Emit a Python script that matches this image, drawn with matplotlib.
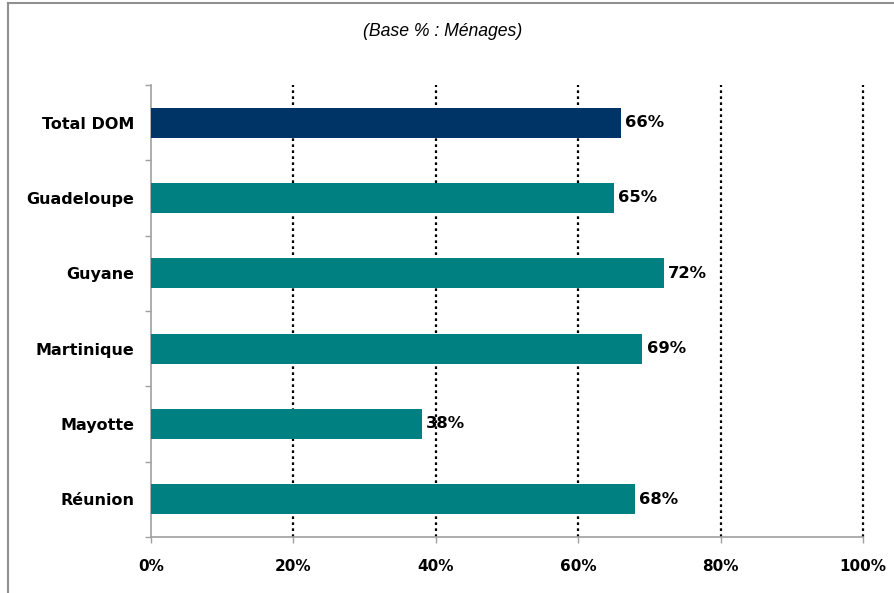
import matplotlib.pyplot as plt
from matplotlib.lines import Line2D

categories = ["Total DOM", "Guadeloupe", "Guyane", "Martinique", "Mayotte", "Réunion"]
values = [66, 65, 72, 69, 38, 68]
colors = ["#003366", "#008080", "#008080", "#008080", "#008080", "#008080"]
xticks = [0, 20, 40, 60, 80, 100]

fig = plt.figure(figsize=(8.94, 5.93), dpi=100)
ax = fig.add_axes([151 / 894, 1 - 537 / 593, 712 / 894, 452 / 593])

ypos = list(range(len(categories)))
ax.barh(ypos, values, height=0.4, color=colors, zorder=3)
ax.set_ylim(len(categories) - 0.5, -0.5)
ax.set_xlim(0, 100)

for y, v in zip(ypos, values):
    ax.text(v + 0.6, y, f"{v}%", va="center", ha="left", fontsize=11.8,
            fontweight="bold", family="DejaVu Sans", zorder=4)

for x in xticks[1:]:
    ax.axvline(x, color="black", lw=1.6, ls=(0, (1.2, 1.5)), zorder=2, clip_on=False)

ax.set_xticks(xticks)
ax.set_xticklabels([f"{x}%" for x in xticks], fontsize=11, fontweight="bold", family="DejaVu Sans")
ax.set_yticks(ypos)
ax.set_yticklabels(categories, fontsize=11.5, fontweight="bold", family="DejaVu Sans")
ax.set_yticks([i + 0.5 for i in range(-1, len(categories))], minor=True)
ax.tick_params(axis="y", which="major", length=0, pad=12)
ax.tick_params(axis="y", which="minor", length=4.5, color="#a0a0a0", width=1)
ax.tick_params(axis="x", length=4.5, color="#a0a0a0", width=1, pad=11)

for s in ["top", "right"]:
    ax.spines[s].set_visible(False)
for s in ["left", "bottom"]:
    ax.spines[s].set_color("#a0a0a0")
    ax.spines[s].set_linewidth(1.2)

fig.text(443 / 894, 1 - 31 / 593, "(Base % : Ménages)", ha="center", va="center",
         fontsize=12.7, style="italic", family="Liberation Sans")

fig.add_artist(Line2D([7.5 / 894, 7.5 / 894], [0, 1 - 2.5 / 593], color="#909090", lw=1.5))
fig.add_artist(Line2D([7.5 / 894, 1], [1 - 2.5 / 593, 1 - 2.5 / 593], color="#909090", lw=1.5))

fig.savefig("out.png", dpi=100)
